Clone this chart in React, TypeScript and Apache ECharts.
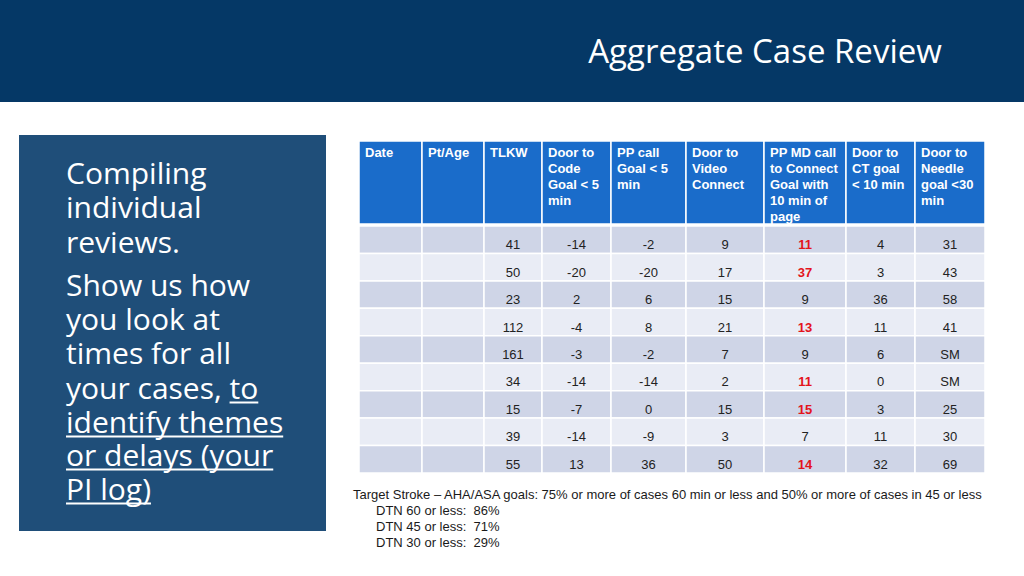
import React, { useEffect, useRef } from "react";
import * as echarts from "echarts";

// ---------- content ----------
const titleText = "Aggregate Case Review";

// [plain part, underlined part]
const panelLines: [string, string][] = [
  ["Compiling", ""],
  ["individual", ""],
  ["reviews.", ""],
  ["Show us how", ""],
  ["you look at", ""],
  ["times for all", ""],
  ["your cases, ", "to"],
  ["", "identify themes"],
  ["", "or delays (your"],
  ["", "PI log)"],
];

const headers = [
  "Date",
  "Pt/Age",
  "TLKW",
  "Door to\nCode\nGoal < 5\nmin",
  "PP call\nGoal < 5\nmin",
  "Door to\nVideo\nConnect",
  "PP MD call\nto Connect\nGoal with\n10 min of\npage",
  "Door to\nCT goal\n< 10 min",
  "Door to\nNeedle\ngoal <30\nmin",
];

const caseIds = ["1", "2", "3", "4", "5", "6", "7", "8", "9"];
const dates = ["", "", "", "", "", "", "", "", ""];
const ptAge = ["", "", "", "", "", "", "", "", ""];
const tlkw = [41, 50, 23, 112, 161, 34, 15, 39, 55];
const doorToCode = [-14, -20, 2, -4, -3, -14, -7, -14, 13];
const ppCall = [-2, -20, 6, 8, -2, -14, 0, -9, 36];
const doorToVideo = [9, 17, 15, 21, 7, 2, 15, 3, 50];
const ppMdConnect = [11, 37, 9, 13, 9, 11, 15, 7, 14];
const doorToCT = [4, 3, 36, 11, 6, 0, 3, 11, 32];
const doorToNeedle = ["31", "43", "58", "41", "SM", "SM", "25", "30", "69"];
const ppMdGoal = 10;

const noteLines = [
  "Target Stroke \u2013 AHA/ASA goals: 75% or more of cases 60 min or less and 50% or more of cases in 45 or less",
  "DTN 60 or less:  86%",
  "DTN 45 or less:  71%",
  "DTN 30 or less:  29%",
];

// ---------- layout (not data) ----------
const colEdges = [0, 63, 125, 183, 252, 327, 405, 487, 556, 626];
const NAVY = "#053866";
const PANEL = "#1f4e79";
const HEAD_BLUE = "#1a6cca";
const ROW_DARK = "#cfd5e7";
const ROW_LIGHT = "#e9ecf5";
const TABLE_FONT = '"Liberation Sans", Arial, sans-serif';

const columnsData: (string | number)[][] = [
  dates,
  ptAge,
  tlkw,
  doorToCode,
  ppCall,
  doorToVideo,
  ppMdConnect,
  doorToCT,
  doorToNeedle,
];

function measure(text: string, font: string): number {
  const c = document.createElement("canvas").getContext("2d");
  if (!c) return text.length * 14;
  c.font = font;
  return c.measureText(text).width;
}

export default function App() {
  const ref = useRef<HTMLDivElement>(null);

  useEffect(() => {
    if (!ref.current) return;
    const chart = echarts.init(ref.current, undefined, { renderer: "svg" });

    const panelFont = '30px "Open Sans"';
    const graphics: any[] = [
      { type: "rect", shape: { x: 0, y: 0, width: 1024, height: 102 }, style: { fill: NAVY } },
      {
        type: "text",
        x: 765,
        y: 50,
        style: {
          text: titleText,
          fill: "#ffffff",
          font: '33px "Open Sans"',
          textAlign: "center",
          textVerticalAlign: "middle",
          align: "center",
          verticalAlign: "middle",
        },
      },
      { type: "rect", shape: { x: 19, y: 135, width: 307, height: 396 }, style: { fill: PANEL } },
    ];

    const baselines = [183, 217, 252, 295, 329, 363, 398, 432, 465, 499];
    panelLines.forEach(([plain, under], i) => {
      const full = plain + under;
      const base = baselines[i];
      graphics.push({
        type: "text",
        x: 66,
        y: base - 10.5,
        style: {
          text: full,
          fill: "#ffffff",
          font: panelFont,
          lineHeight: 30,
          textAlign: "left",
          textVerticalAlign: "middle",
          align: "left",
          verticalAlign: "middle",
        },
      });
      if (under) {
        const x0 = 66 + measure(plain, panelFont);
        const x1 = 66 + measure(full, panelFont);
        graphics.push({
          type: "line",
          shape: { x1: x0, y1: base + 4.5, x2: x1, y2: base + 4.5 },
          style: { stroke: "#ffffff", lineWidth: 2 },
        });
      }
    });

    noteLines.forEach((t, i) => {
      graphics.push({
        type: "text",
        x: i === 0 ? 353 : 376,
        y: 494 + i * 16,
        style: {
          text: t,
          fill: "#1a1a1a",
          font: `13px ${TABLE_FONT}`,
          lineHeight: 15,
          textAlign: "left",
          textVerticalAlign: "middle",
          align: "left",
          verticalAlign: "middle",
        },
      });
    });

    const headerData = headers.map((_, c) => [c, 0]);
    const bodyData: number[][] = [];
    caseIds.forEach((_, r) => {
      columnsData.forEach((_, c) => bodyData.push([c, r]));
    });

    const option: any = {
      animation: false,
      backgroundColor: "#ffffff",
      graphic: graphics,
      grid: [
        { left: 359, top: 141, width: 626, height: 83 },
        { left: 359, top: 226, width: 626, height: 247 },
      ],
      xAxis: [
        { type: "value", gridIndex: 0, min: 0, max: 626, show: false },
        { type: "value", gridIndex: 1, min: 0, max: 626, show: false },
      ],
      yAxis: [
        { type: "category", gridIndex: 0, data: ["header"], show: false },
        { type: "category", gridIndex: 1, data: caseIds, inverse: true, show: false },
      ],
      series: [
        {
          type: "custom",
          xAxisIndex: 0,
          yAxisIndex: 0,
          data: headerData,
          renderItem: (params: any, api: any) => {
            const c = api.value(0);
            const p0 = api.coord([colEdges[c], 0]);
            const p1 = api.coord([colEdges[c + 1], 0]);
            const h = api.size([0, 1])[1];
            const top = p0[1] - h / 2;
            return {
              type: "group",
              children: [
                {
                  type: "rect",
                  shape: { x: p0[0], y: top, width: p1[0] - p0[0], height: h },
                  style: { fill: HEAD_BLUE, stroke: "#ffffff", lineWidth: 1.5 },
                },
                {
                  type: "text",
                  style: {
                    x: p0[0] + 6,
                    y: top + 3,
                    text: headers[c],
                    fill: "#ffffff",
                    font: `bold 13px ${TABLE_FONT}`,
                    lineHeight: 16,
                    textAlign: "left",
                    textVerticalAlign: "top",
                    align: "left",
                    verticalAlign: "top",
                  },
                },
              ],
            };
          },
        },
        {
          type: "custom",
          xAxisIndex: 1,
          yAxisIndex: 1,
          data: bodyData,
          renderItem: (params: any, api: any) => {
            const c = api.value(0);
            const r = api.value(1);
            const p0 = api.coord([colEdges[c], r]);
            const p1 = api.coord([colEdges[c + 1], r]);
            const h = api.size([0, 1])[1];
            const top = p0[1] - h / 2;
            const v = columnsData[c][r];
            const isRed = c === 6 && typeof v === "number" && v > ppMdGoal;
            return {
              type: "group",
              children: [
                {
                  type: "rect",
                  shape: { x: p0[0], y: top, width: p1[0] - p0[0], height: h },
                  style: { fill: r % 2 === 0 ? ROW_DARK : ROW_LIGHT, stroke: "#ffffff", lineWidth: 1.5 },
                },
                {
                  type: "text",
                  style: {
                    x: (p0[0] + p1[0]) / 2,
                    y: p0[1] + 5,
                    text: String(v),
                    fill: isRed ? "#e3141c" : "#222222",
                    font: `${isRed ? "bold " : ""}13px ${TABLE_FONT}`,
                    textAlign: "center",
                    textVerticalAlign: "middle",
                    align: "center",
                    verticalAlign: "middle",
                  },
                },
              ],
            };
          },
        },
      ],
    };

    chart.setOption(option);
    return () => chart.dispose();
  }, []);

  return (
    <div
      ref={ref}
      style={{ position: "fixed", left: 0, top: 0, width: 1024, height: 576 }}
    />
  );
}
